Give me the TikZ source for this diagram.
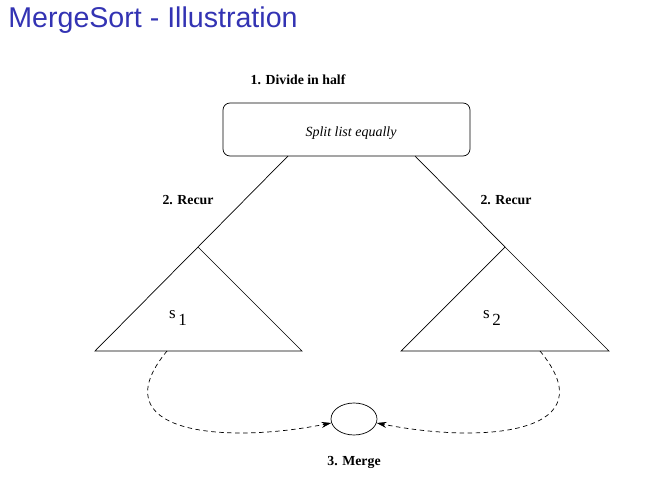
\documentclass[tikz,border=0pt]{standalone}
\usepackage{fontspec}
\setmainfont{Liberation Serif}
\newfontfamily\titlefont{Liberation Sans}
\usetikzlibrary{arrows.meta,shapes.geometric}
\definecolor{titleblue}{RGB}{51,51,179}
\begin{document}
\begin{tikzpicture}[
        x                 = 1pt,
        y                 = -1pt,
        line width        = 0.7pt,
        step label/.style = {font=\bfseries\fontsize{13.8}{16}\selectfont},
        half/.style       = {font=\fontsize{17}{19}\selectfont},
        merge arrow/.style = {dash pattern=on 4.5pt off 3.5pt, -{Stealth[length=10pt, width=6pt]}},
      ]
        \useasboundingbox (0,0) rectangle (667,495);

        \node[anchor=base west, inner sep=0, text=titleblue,
              font=\titlefont\fontsize{28.6}{32}\selectfont] (title) at (8,28) {MergeSort - Illustration};

        % divide
        \node[step label] (divide) at (298,80) {1. Divide in half};
        \node[draw, rounded corners=7pt, minimum width=247pt, minimum height=53pt] (split) at (346.5,129.5) {};
        \node[font=\itshape\fontsize{14}{16}\selectfont] (splittext) at (351,133) {Split list equally};

        % recur
        \coordinate (lfoot) at (288,156);
        \coordinate (rfoot) at (415,156);
        \coordinate (lapex) at (198,247);
        \coordinate (rapex) at (505,247);
        \draw (lfoot) -- (lapex);
        \draw (rfoot) -- (rapex);
        \node[step label] (lrecur) at (188,200) {2. Recur};
        \node[step label] (rrecur) at (506,200) {2. Recur};

        \draw (lapex) -- (95,351) coordinate (lbase) -- (302,351) -- cycle;
        \draw (rapex) -- (401,351) coordinate (rbase) -- (609,351) -- cycle;
        \node[half] (s1) at (178,318) {s\,\raisebox{-7pt}{1}};
        \node[half] (s2) at (492,318) {s\,\raisebox{-7pt}{2}};

        % merge
        \node[draw, ellipse, minimum width=46pt, minimum height=32pt, inner sep=0] (merge) at (354,419) {};
        \coordinate (lout) at (167,351);
        \coordinate (rout) at (540,351);
        \draw[merge arrow] (lout) .. controls (100,432) and (220,445) .. (merge.190);
        \draw[merge arrow] (rout) .. controls (607,432) and (488,445) .. (merge.350);
        \node[step label] (mergetext) at (354,462) {3. Merge};
    \end{tikzpicture}
\end{document}
